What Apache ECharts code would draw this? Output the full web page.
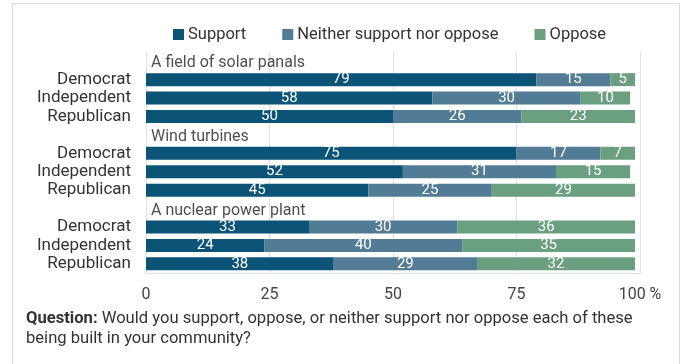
<!DOCTYPE html>
<html>
<head>
<meta charset="utf-8">
<script src="https://cdn.jsdelivr.net/npm/echarts@6/dist/echarts.min.js"></script>
<style>html,body{margin:0;padding:0;background:#fff}#c{width:686px;height:364px}</style>
</head>
<body>
<div id="c"></div>
<script>
const groups = ["A field of solar panals", "Wind turbines", "A nuclear power plant"];
const parties = ["Democrat", "Independent", "Republican"];
const seriesNames = ["Support", "Neither support nor oppose", "Oppose"];
const support = [[79, 58, 50], [75, 52, 45], [33, 24, 38]];
const neither = [[15, 30, 26], [17, 31, 25], [30, 40, 29]];
const oppose = [[5, 10, 23], [7, 15, 29], [36, 35, 32]];
const xTicks = [0, 25, 50, 75, 100];

const colors = ["#0b5478", "#527b95", "#6a9f80"];
const cats = [];
const titleRows = [];
groups.forEach((g, gi) => {
  titleRows.push(cats.length);
  cats.push("");
  parties.forEach(p => cats.push(p));
});
function rowData(arr) {
  const out = [];
  groups.forEach((g, gi) => {
    out.push('-');
    arr[gi].forEach(v => out.push(v));
  });
  return out;
}
const valueSets = [support, neither, oppose];
const font = 'Roboto, "Liberation Sans", sans-serif';
const chart = echarts.init(document.getElementById('c'));
chart.setOption({
  animation: false,
  textStyle: { fontFamily: font },
  legend: {
    top: 26, left: 173, padding: 0, itemWidth: 11, itemHeight: 11, icon: 'rect', itemGap: 36,
    textStyle: { fontSize: 16.5, color: '#333', fontFamily: font, padding: [0, 0, 0, -1] },
    data: seriesNames
  },
  grid: { left: 146, right: 46, top: 52, height: 221 },
  xAxis: {
    type: 'value', min: 0, max: 100, interval: 25,
    axisLabel: { fontSize: 16, color: '#444', margin: 14,
      formatter: v => xTicks.includes(v) ? (v === 100 ? '100 %' : String(v)) : '' },
    splitLine: { lineStyle: { color: '#e0e0e0' } },
    axisLine: { show: true, lineStyle: { color: '#dbe3ea' } },
    axisTick: { show: false }
  },
  yAxis: {
    type: 'category', inverse: true, data: cats,
    axisLine: { show: false }, axisTick: { show: false },
    axisLabel: { fontSize: 17, color: '#333', margin: 15, interval: 0 }
  },
  series: seriesNames.map((n, i) => ({
    name: n, type: 'bar', stack: 's', barWidth: 13,
    itemStyle: { color: colors[i] },
    label: { show: true, position: 'inside', color: '#fff', fontSize: 15, fontFamily: font },
    data: rowData(valueSets[i])
  })).concat([{
    type: 'scatter', symbolSize: 0, silent: true,
    label: { show: true, position: 'right', distance: 5, offset: [0, 2], color: '#222', fontSize: 16, fontFamily: font,
      formatter: p => groups[p.dataIndex] },
    data: titleRows.map(r => [0, r])
  }]),
  graphic: [
    { type: 'rect', shape: { x: 12.5, y: 3.5, width: 667, height: 420 },
      style: { fill: 'none', stroke: '#dcdcdc', lineWidth: 1 }, silent: true },
    { type: 'text', left: 26, top: 309,
      style: { text: '{b|Question:} Would you support, oppose, or neither support nor oppose each of these\nbeing built in your community?',
        font: '16.6px ' + font, fill: '#333', lineHeight: 20,
        rich: { b: { fontWeight: 'bold', fontSize: 16.6, fill: '#333', fontFamily: font } } } }
  ]
});
</script>
</body>
</html>
